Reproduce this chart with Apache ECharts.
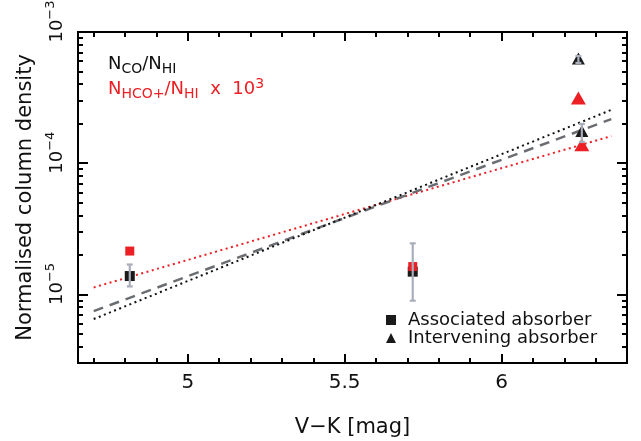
<!DOCTYPE html>
<html><head><meta charset="utf-8">
<script src="https://cdn.jsdelivr.net/npm/echarts@6/dist/echarts.min.js"></script>
<style>html,body{margin:0;padding:0;background:#fff}#c{width:641px;height:441px}</style>
</head><body><div id="c"></div>
<script>
// ---- data ----
const xAssoc = [4.815, 5.717];
const coAssoc = [1.38e-5, 1.49e-5];
const hcoAssoc = [2.14e-5, 1.63e-5];
const coAssocErrLow = [1.15e-5, 8.95e-6];
const coAssocErrHigh = [1.69e-5, 2.45e-5];
const xInterv = [6.245, 6.256];
const coInterv = [6.28e-4, 1.76e-4];
const hcoInterv = [3.14e-4, 1.38e-4];
const coIntervErrLow = [5.81e-4, 1.45e-4];
const coIntervErrHigh = [6.56e-4, 1.99e-4];
const fitX = [4.7, 6.35];
const fitBlackDotted = [6.49e-6, 2.55e-4];
const fitGrayDashed = [7.45e-6, 2.17e-4];
const fitRedDotted = [1.13e-5, 1.61e-4];
const xTickLabels = [5, 5.5, 6];
const xMinorTicks = [4.7,4.8,4.9,5.0,5.1,5.2,5.3,5.4,5.5,5.6,5.7,5.8,5.9,6.0,6.1,6.2,6.3];
const yTickExps = [-5, -4, -3];
const yMinorMantissas = [2,3,4,5,6,7,8,9];
const yDecades = [1e-6, 1e-5, 1e-4];

// ---- build ----
const L = v => Math.log10(v);
const FONT = 'DejaVu Sans';
const RED = '#ec2024';
const xMin = 4.65, xMax = 6.4;
const yMin = L(3e-6), yMax = L(1e-3);
const yMinor = [];
yDecades.forEach(d => yMinorMantissas.forEach(m => { const v = L(m * d); if (v > yMin + 1e-6 && v < yMax) yMinor.push(v); }));

const pts = (xs, ys) => xs.map((x, i) => [x, L(ys[i])]);
const errs = (xs, lo, hi) => xs.map((x, i) => [x, L(lo[i]), L(hi[i])]);

function renderErr(params, api) {
  const x = api.value(0);
  const a = api.coord([x, api.value(1)]);
  const b = api.coord([x, api.value(2)]);
  const w = 3;
  const style = { stroke: '#a9aebb', lineWidth: 2.2 };
  return { type: 'group', children: [
    { type: 'line', shape: { x1: a[0], y1: a[1], x2: b[0], y2: b[1] }, style },
    { type: 'line', shape: { x1: a[0] - w, y1: a[1], x2: a[0] + w, y2: a[1] }, style },
    { type: 'line', shape: { x1: b[0] - w, y1: b[1], x2: b[0] + w, y2: b[1] }, style }
  ]};
}

const axisLine = { show: true, lineStyle: { color: '#000', width: 2 } };
function xAx(pos, major, labels) {
  return {
    type: 'value', position: pos, min: xMin, max: xMax, gridIndex: 0,
    axisLine: axisLine,
    axisTick: { show: true, inside: true, length: major ? 9 : 5, lineStyle: { color: '#000', width: 2 },
      customValues: major ? xTickLabels : xMinorTicks },
    axisLabel: labels ? { show: true, customValues: xTickLabels, margin: 10,
      fontFamily: FONT, fontSize: 20, color: '#111', formatter: v => String(v) } : { show: false },
    splitLine: { show: false },
    name: labels ? 'V\u2212K [mag]' : '', nameLocation: 'middle', nameGap: 54,
    nameTextStyle: { fontFamily: FONT, fontSize: 21, color: '#111' }
  };
}
function yAx(pos, major, labels) {
  return {
    type: 'value', position: pos, min: yMin, max: yMax, gridIndex: 0,
    axisLine: axisLine,
    axisTick: { show: true, inside: true, length: major ? 10 : 5, lineStyle: { color: '#000', width: 2 },
      customValues: major ? yTickExps : yMinor },
    axisLabel: labels ? { show: true, customValues: yTickExps, rotate: 90, margin: 7,
      formatter: v => '{b|10}{s|' + (v < 0 ? '\u2212' : '') + Math.abs(Math.round(v)) + '}',
      rich: {
        b: { fontFamily: FONT, fontSize: 18, color: '#111', padding: [0, 0, 0, 21] },
        s: { fontFamily: FONT, fontSize: 13, color: '#111', padding: [0, 0, 14, 0] }
      } } : { show: false },
    splitLine: { show: false },
    name: labels ? 'Normalised column density' : '', nameLocation: 'middle', nameGap: 40,
    nameTextStyle: { fontFamily: FONT, fontSize: 21, color: '#111' }
  };
}

const richLegend = (color) => ({
  n: { fontFamily: FONT, fontSize: 18, color: color, fontWeight: 'normal' },
  sub: { fontFamily: FONT, fontSize: 14, color: color, fontWeight: 'normal', padding: [10, 0, 0, 0] },
  sup: { fontFamily: FONT, fontSize: 14, color: color, fontWeight: 'normal', padding: [0, 0, 10, 0] }
});

const option = {
  backgroundColor: '#fff',
  animation: false,
  grid: { left: 78, right: 14, top: 32, bottom: 78, containLabel: false, outerBoundsMode: 'none' },
  title: [
    { text: '{n|N}{sub|CO}{n|/N}{sub|HI}', left: 108, top: 52, padding: 0,
      textStyle: { fontWeight: 'normal', rich: richLegend('#111') } },
    { text: '{n|N}{sub|HCO+}{n|/N}{sub|HI}{n|  x  10}{sup|3}', left: 108, top: 77, padding: 0,
      textStyle: { fontWeight: 'normal', rich: richLegend(RED) } }
  ],
  legend: {
    orient: 'vertical', left: 381, top: 306, itemWidth: 10, itemHeight: 10, itemGap: 0,
    selectedMode: false,
    data: [ { name: 'Associated absorber', icon: 'rect' }, { name: 'Intervening absorber', icon: 'triangle' } ],
    textStyle: { fontFamily: FONT, fontSize: 18, color: '#111', lineHeight: 18, padding: [0, 0, 0, 7] }
  },
  xAxis: [ xAx('bottom', true, true), xAx('bottom', false, false), xAx('top', true, false), xAx('top', false, false) ],
  yAxis: [ yAx('left', true, true), yAx('left', false, false), yAx('right', true, false), yAx('right', false, false) ],
  series: [
    { type: 'line', name: 'fitRed', data: pts(fitX, fitRedDotted), showSymbol: false, z: 1,
      lineStyle: { color: RED, width: 2, type: [2, 3.5] } },
    { type: 'line', name: 'fitGray', data: pts(fitX, fitGrayDashed), showSymbol: false, z: 1,
      lineStyle: { color: '#6a6d72', width: 2.5, type: [10, 7] } },
    { type: 'line', name: 'fitBlack', data: pts(fitX, fitBlackDotted), showSymbol: false, z: 1,
      lineStyle: { color: '#111', width: 2, type: [2, 3.5] } },
    { type: 'scatter', name: 'Associated absorber', data: pts(xAssoc, coAssoc), symbol: 'rect', symbolSize: 10, z: 3,
      itemStyle: { color: '#1a1a1a', opacity: 1 } },
    { type: 'scatter', name: 'Intervening absorber', data: pts(xInterv, coInterv), symbol: 'triangle', symbolSize: [13, 12], z: 3,
      itemStyle: { color: '#1a1a1a', opacity: 1 } },
    { type: 'scatter', name: 'hcoAssoc', data: pts(xAssoc, hcoAssoc), symbol: 'rect', symbolSize: 9, z: 4,
      itemStyle: { color: RED, opacity: 1 } },
    { type: 'scatter', name: 'hcoInterv', data: pts(xInterv, hcoInterv), symbol: 'triangle', symbolSize: [15, 13], z: 4,
      itemStyle: { color: RED, opacity: 1 } },
    { type: 'custom', name: 'err', renderItem: renderErr, z: 5,
      encode: { x: 0, y: [1, 2] },
      data: errs(xAssoc, coAssocErrLow, coAssocErrHigh).concat(errs(xInterv, coIntervErrLow, coIntervErrHigh)) }
  ]
};
const chart = echarts.init(document.getElementById('c'));
chart.setOption(option);
</script>
</body></html>
